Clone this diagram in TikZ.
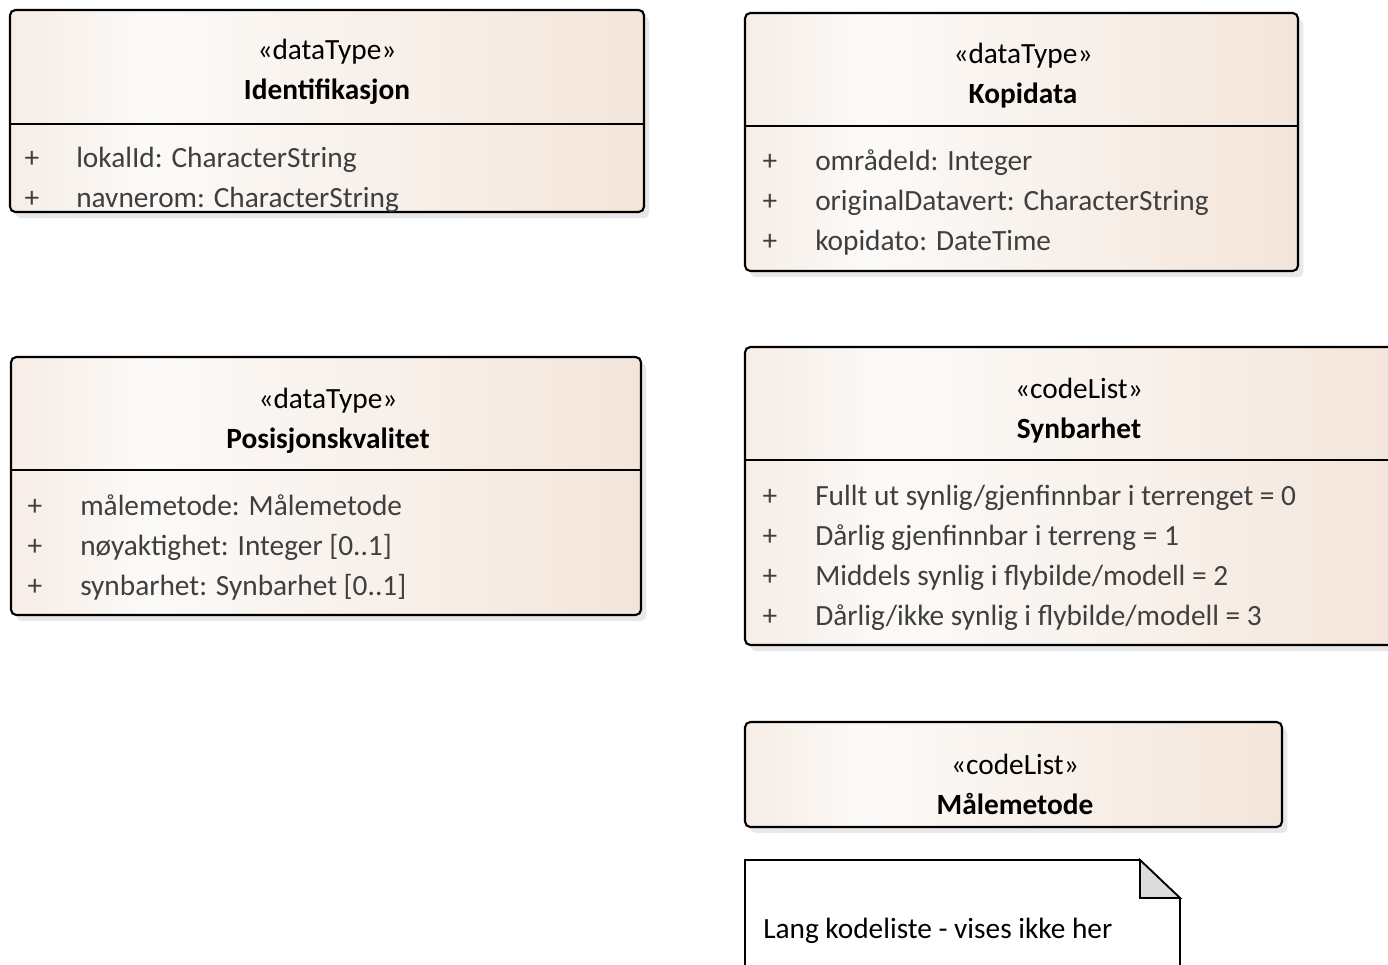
\documentclass[tikz,border=0pt]{standalone}
\usepackage{fontspec}
\setmainfont{Carlito}
\usepackage{tikz}
\usetikzlibrary{shadows,fit,positioning}

\definecolor{boxleft}{HTML}{F6EDE6}
\definecolor{boxlight}{HTML}{FCFAF8}
\definecolor{boxright}{HTML}{F3E5DA}
\definecolor{attrgray}{HTML}{3F3F3F}
\definecolor{foldgray}{HTML}{DCDCDC}
\pgfdeclarehorizontalshading{umlfill}{100bp}{color(0bp)=(boxleft); color(25bp)=(boxleft); color(36bp)=(boxlight); color(75bp)=(boxright); color(100bp)=(boxright)}

\tikzset{
  umlbox/.style={draw, line width=1.6pt, rounded corners=4pt, shading=umlfill, inner sep=0pt,
    drop shadow={shadow xshift=4pt, shadow yshift=-4.5pt, fill=black!18}},
  divider/.style={line width=1.6pt},
  stereo/.style={font=\fontsize{22}{24}\selectfont, anchor=mid, yshift=-5.5pt},
  classname/.style={font=\fontsize{22}{24}\selectfont\bfseries, anchor=mid, yshift=-5.5pt},
  plus/.style={font=\fontsize{22}{24}\selectfont, text=attrgray, anchor=mid, yshift=-5.5pt},
  attr/.style={font=\fontsize{22}{24}\selectfont, text=attrgray, anchor=mid west, inner sep=0pt, yshift=-5.5pt},
}

\begin{document}
\begin{tikzpicture}[x=0.75pt, y=-0.75pt]
    \useasboundingbox (0,0) rectangle (1388,964);
    \clip (0,0) rectangle (1388,964);

    % Identifikasjon
    \node[umlbox, fit={(10,10) (644,212)}] (ident) {};
    \draw[divider] (10,124) -- (644,124);
    \node[stereo] (identSt) at (327,49) {«dataType»};
    \node[classname] (identNm) at (327,89) {Identifikasjon};
    \node[plus] (identP1) at (32,157) {+};
    \node[attr] (identA1) at (76,157) {lokalId: CharacterString};
    \node[plus] (identP2) at (32,197) {+};
    \node[attr] (identA2) at (76,197) {navnerom: CharacterString};

    % Kopidata
    \node[umlbox, fit={(745,13) (1298,271)}] (kopi) {};
    \draw[divider] (745,126) -- (1298,126);
    \node[stereo] (kopiSt) at (1023,53) {«dataType»};
    \node[classname] (kopiNm) at (1023,93) {Kopidata};
    \node[plus] (kopiP1) at (770,160) {+};
    \node[attr] (kopiA1) at (815,160) {områdeId: Integer};
    \node[plus] (kopiP2) at (770,200) {+};
    \node[attr] (kopiA2) at (815,200) {originalDatavert: CharacterString};
    \node[plus] (kopiP3) at (770,240) {+};
    \node[attr] (kopiA3) at (815,240) {kopidato: DateTime};

    % Posisjonskvalitet
    \node[umlbox, fit={(11,357) (641,615)}] (pos) {};
    \draw[divider] (11,470) -- (641,470);
    \node[stereo] (posSt) at (328,398) {«dataType»};
    \node[classname] (posNm) at (328,438) {Posisjonskvalitet};
    \node[plus] (posP1) at (35,505) {+};
    \node[attr] (posA1) at (80,505) {målemetode: Målemetode};
    \node[plus] (posP2) at (35,545) {+};
    \node[attr] (posA2) at (80,545) {nøyaktighet: Integer [0..1]};
    \node[plus] (posP3) at (35,585) {+};
    \node[attr] (posA3) at (80,585) {synbarhet: Synbarhet [0..1]};

    % Synbarhet (runs past the right edge)
    \node[umlbox, fit={(745,347) (1413,645)}] (synb) {};
    \draw[divider] (745,460) -- (1413,460);
    \node[stereo] (synbSt) at (1079,388) {«codeList»};
    \node[classname] (synbNm) at (1079,428) {Synbarhet};
    \node[plus] (synbP1) at (770,495) {+};
    \node[attr] (synbA1) at (815,495) {Fullt ut synlig/gjenfinnbar i terrenget = 0};
    \node[plus] (synbP2) at (770,535) {+};
    \node[attr] (synbA2) at (815,535) {Dårlig gjenfinnbar i terreng = 1};
    \node[plus] (synbP3) at (770,575) {+};
    \node[attr] (synbA3) at (815,575) {Middels synlig i flybilde/modell = 2};
    \node[plus] (synbP4) at (770,615) {+};
    \node[attr] (synbA4) at (815,615) {Dårlig/ikke synlig i flybilde/modell = 3};

    % Målemetode
    \node[umlbox, fit={(745,722) (1282,827)}] (maal) {};
    \node[stereo] (maalSt) at (1015,764) {«codeList»};
    \node[classname] (maalNm) at (1015,804) {Målemetode};

    % note
    \draw[line width=1.3pt, fill=white] (745,860) -- (1140,860) -- (1180,898) -- (1180,990) -- (745,990) -- cycle;
    \draw[line width=1.3pt, fill=foldgray] (1140,860) -- (1140,898) -- (1180,898) -- cycle;
    \node[attr, text=black] (noteTx) at (763,928) {Lang kodeliste - vises ikke her};
\end{tikzpicture}
\end{document}
